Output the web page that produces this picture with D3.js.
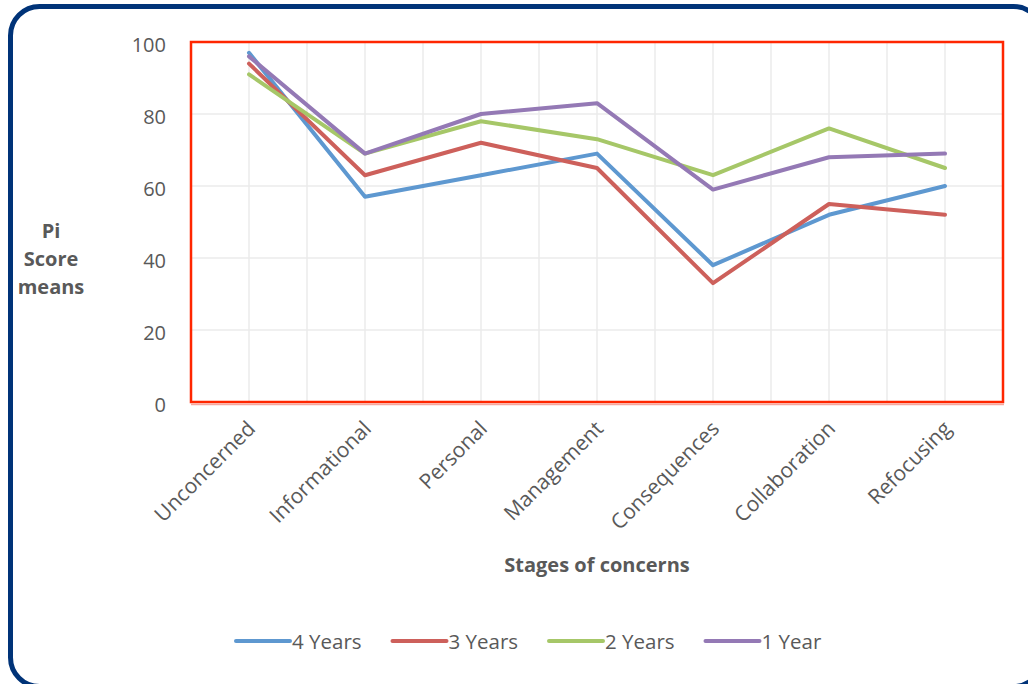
<!DOCTYPE html>
<html>
<head>
<meta charset="utf-8">
<script src="https://cdn.jsdelivr.net/npm/d3@7/dist/d3.min.js"></script>
<style>
  html, body { margin: 0; padding: 0; background: #ffffff; }
  svg { display: block; }
  text { font-family: "Open Sans", "Noto Sans", sans-serif; fill: #595959; }
</style>
</head>
<body>
<svg id="chart" width="1028" height="684"></svg>
<script>
// Stages of concern and mean Pi scores by years of experience
const stages = ["Unconcerned", "Informational", "Personal", "Management", "Consequences", "Collaboration", "Refocusing"];
const seriesNames = ["4 Years", "3 Years", "2 Years", "1 Year"];
const fourYears  = [97, 57, 63, 69, 38, 52, 60];
const threeYears = [94, 63, 72, 65, 33, 55, 52];
const twoYears   = [91, 69, 78, 73, 63, 76, 65];
const oneYear    = [96, 69, 80, 83, 59, 68, 69];
const yTicks = [0, 20, 40, 60, 80, 100];
const seriesColors = ["#5e98d0", "#cd605b", "#a6c768", "#9479b5"];

const seriesValues = [fourYears, threeYears, twoYears, oneYear];
const series = seriesNames.map((name, i) => ({ name, values: seriesValues[i], color: seriesColors[i] }));

const svg = d3.select("#chart");
const plot = { left: 191, right: 1003, top: 42, bottom: 402 };

// Outer rounded frame
svg.append("rect")
  .attr("x", 10.5).attr("y", 6.5)
  .attr("width", 1032).attr("height", 680)
  .attr("rx", 29).attr("ry", 29)
  .attr("fill", "#ffffff")
  .attr("stroke", "#003378")
  .attr("stroke-width", 5);

const x = d3.scalePoint().domain(stages).range([plot.left, plot.right]).padding(0.5);
const y = d3.scaleLinear().domain([0, 100]).range([plot.bottom, plot.top]);

// Gridlines: horizontal at each tick, vertical at every half category
const half = x.step() / 2;
const vLines = d3.range(0, stages.length * 2 + 1).map(k => plot.left + k * half);
svg.append("g").selectAll("line.v").data(vLines).join("line")
  .attr("x1", d => d).attr("x2", d => d)
  .attr("y1", plot.top).attr("y2", plot.bottom)
  .attr("stroke", "#ebebeb").attr("stroke-width", 1.5);
svg.append("g").selectAll("line.h").data(yTicks.filter(t => t > 0 && t < 100)).join("line")
  .attr("x1", plot.left).attr("x2", plot.right)
  .attr("y1", d => y(d)).attr("y2", d => y(d))
  .attr("stroke", "#ebebeb").attr("stroke-width", 1.5);

// Y axis tick labels
const yAxis = d3.axisLeft(y).tickValues(yTicks).tickSize(0).tickPadding(0);
const yg = svg.append("g").attr("transform", `translate(166,0)`).call(yAxis);
yg.select(".domain").remove();
yg.selectAll("text")
  .attr("font-family", null)
  .attr("fill", null)
  .attr("dy", "0.48em")
  .style("font-size", "20px");

// X axis category labels, rotated
const xAxis = d3.axisBottom(x).tickSize(0).tickPadding(0);
const xg = svg.append("g").attr("transform", `translate(0,${plot.bottom})`).call(xAxis);
xg.select(".domain").remove();
xg.selectAll("text")
  .attr("font-family", null)
  .attr("fill", null)
  .attr("text-anchor", "end")
  .attr("y", 0).attr("dy", 0)
  .attr("transform", "translate(7,28) rotate(-45)")
  .style("font-size", "21px");

// Series lines
const line = d3.line().x((d, i) => x(stages[i])).y(d => y(d));
svg.append("g").selectAll("path").data(series).join("path")
  .attr("d", d => line(d.values))
  .attr("fill", "none")
  .attr("stroke", d => d.color)
  .attr("stroke-width", 4)
  .attr("stroke-linejoin", "round")
  .attr("stroke-linecap", "round");

// Plot area frame
svg.append("line")
  .attr("x1", plot.left).attr("x2", plot.right + 1)
  .attr("y1", plot.bottom + 2.5).attr("y2", plot.bottom + 2.5)
  .attr("stroke", "#f5a8a0").attr("stroke-width", 1.5);
svg.append("rect")
  .attr("x", plot.left).attr("y", plot.top)
  .attr("width", plot.right - plot.left).attr("height", plot.bottom - plot.top)
  .attr("fill", "none")
  .attr("stroke", "#ff2600")
  .attr("stroke-width", 2.5);

// Axis titles
svg.append("text")
  .attr("x", (plot.left + plot.right) / 2).attr("y", 572)
  .attr("text-anchor", "middle")
  .style("font-size", "20px").style("font-weight", "bold")
  .text("Stages of concerns");

const yTitle = svg.append("text")
  .attr("text-anchor", "middle")
  .style("font-size", "20px").style("font-weight", "bold");
["Pi", "Score", "means"].forEach((w, i) => {
  yTitle.append("tspan").attr("x", 51).attr("y", 238 + i * 28).text(w);
});

// Legend
const legend = svg.append("g").attr("transform", "translate(236,641)");
const item = legend.selectAll("g").data(series).join("g")
  .attr("transform", (d, i) => `translate(${i * 156.5},0)`);
item.append("line")
  .attr("x1", 0).attr("x2", 54).attr("y1", 0).attr("y2", 0)
  .attr("stroke", d => d.color).attr("stroke-width", 4)
  .attr("stroke-linecap", "round");
item.append("text")
  .attr("x", 56).attr("y", 8)
  .style("font-size", "20.5px")
  .text(d => d.name);
</script>
</body>
</html>
